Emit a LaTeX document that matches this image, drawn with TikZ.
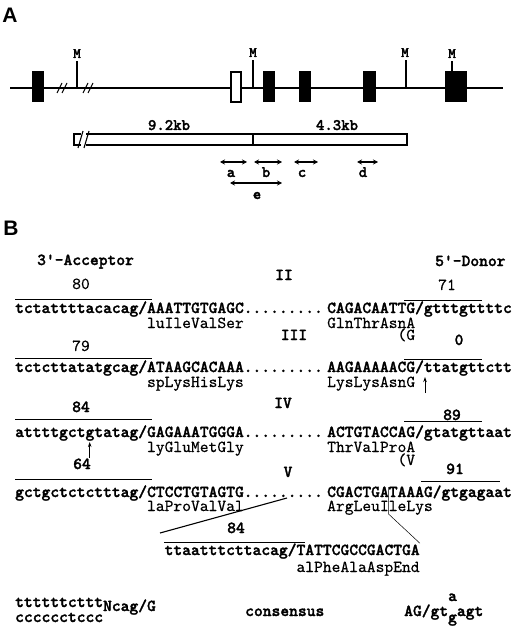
\documentclass[tikz,border=0pt]{standalone}
\usepackage{fontspec}
\usetikzlibrary{arrows.meta}
\newfontfamily\hvfont{Liberation Sans}
\newfontfamily\sqbfam{lmmonolt10-bold.otf}[FakeBold=1.6]
\newfontfamily\sqrfam{lmmono10-regular.otf}[FakeBold=0.4]
\newcommand\sqf{\sqrfam\fontsize{16.75}{18}\selectfont}
\newcommand\sqb{\sqbfam\fontsize{16.75}{18}\selectfont}
\def\P{8.79}
\def\XR{327}
\begin{document}
\begin{tikzpicture}[x=1pt,y=-1pt,
  seqt/.style={font=\sqb,inner sep=0pt,anchor=base west},
  aat/.style={font=\sqf,inner sep=0pt,anchor=base west},
  numb/.style={font=\sqb,inner sep=0pt,anchor=base},
  numr/.style={font=\sqf,inner sep=0pt,anchor=base},
  panel/.style={font=\hvfont\bfseries\fontsize{21}{24}\selectfont,inner sep=0pt},
  exonbox/.style={draw,fill=black,line width=1pt,inner sep=0pt,minimum height=30pt},
  openbox/.style={draw,fill=white,line width=1.2pt,inner sep=0pt,minimum height=30pt},
  gene/.style={line width=1.4pt},
  tick/.style={line width=1.1pt},
  mlab/.style={font=\sqbfam\fontsize{14.5}{16}\selectfont,inner sep=0pt,anchor=base},
  kb/.style={font=\sqbfam\fontsize{16}{18}\selectfont,inner sep=0pt,anchor=base},
  bar/.style={line width=1.3pt},
  dbl/.style={line width=1.3pt,{Stealth[length=5pt,width=5pt]}-{Stealth[length=5pt,width=5pt]}},
  ovl/.style={line width=0.8pt},
  uparrow/.style={line width=0.9pt,-{Stealth[length=5pt,width=3.5pt]}},
  brk/.style={line width=1.1pt},
]
\fill[white] (0,0) rectangle (520,628);
\useasboundingbox (0,0) rectangle (520,628);

% ---------------- Panel A ----------------
\node[panel] (labA) at (10,15) {A};
\draw[gene] (10,88) coordinate (g0) -- (503,88) coordinate (g1);
\draw[brk] (57,93) -- (62,83);
\draw[brk] (62,93) -- (67,83);
\draw[brk] (83,93) -- (88,83);
\draw[brk] (88,93) -- (93,83);
\node[exonbox,minimum width=11pt] (e1) at (37.5,87) {};
\node[openbox,minimum width=10pt] (e2) at (236,87) {};
\node[exonbox,minimum width=11pt] (e3) at (268.5,87) {};
\node[exonbox,minimum width=11pt] (e4) at (304.5,87) {};
\node[exonbox,minimum width=12pt] (e5) at (369,87) {};
\node[exonbox,minimum width=21pt] (e6) at (455.5,87) {};
\node[mlab] (m1) at (77,58) {M};
\node[mlab] (m2) at (253,57) {M};
\node[mlab] (m3) at (405,57) {M};
\node[mlab] (m4) at (452,58) {M};
\draw[tick] (77,88) -- (77,61);
\draw[tick] (253,88) -- (253,60);
\draw[tick] (406,88) -- (406,60);
\draw[tick] (452,72) -- (452,61);

% restriction fragment bar
\draw[bar] (81,134) -- (74,134) -- (74,145) -- (81,145);
\draw[bar] (86,134) -- (407,134) -- (407,145) -- (86,145);
\draw[brk] (78,148) -- (83,131);
\draw[brk] (84,148) -- (89,131);
\draw[bar] (253,134) -- (253,145);
\node[kb] (kb1) at (169,130) {9.2kb};
\node[kb] (kb2) at (337,130) {4.3kb};

% probes
\coordinate (pa1) at (220,162); \coordinate (pa2) at (247,162);
\coordinate (pb1) at (254,162); \coordinate (pb2) at (282,162);
\coordinate (pc1) at (294,162); \coordinate (pc2) at (318,162);
\coordinate (pd1) at (357,162); \coordinate (pd2) at (378,162);
\coordinate (pe1) at (230,183); \coordinate (pe2) at (282,183);
\draw[dbl] (pa1) -- (pa2);
\draw[dbl] (pb1) -- (pb2);
\draw[dbl] (pc1) -- (pc2);
\draw[dbl] (pd1) -- (pd2);
\draw[dbl] (pe1) -- (pe2);
\node[kb] (la) at (231,177) {a};
\node[kb] (lb) at (266,177) {b};
\node[kb] (lc) at (302,177) {c};
\node[kb] (ld) at (363,177) {d};
\node[kb] (le) at (257,199) {e};

% ---------------- Panel B ----------------
\node[panel] (labB) at (11,228) {B};
\node[seqt] (acc) at (37,265) {3'-Acceptor};
\node[seqt] (don) at (435,266) {5'-Donor};

% row II
\node[numr] (n80) at (81,289) {80};
\node[numb] (r2) at (284,280) {II};
\node[numr] (n71) at (447,290) {71};
\draw[ovl] (15,299) -- (152,299);
\draw[ovl] (404,300) -- (482,300);
\node[seqt] (s1l) at (15,313) {tctattttacacag/AAATTGTGAGC};
\node[seqt] (d1) at ({15+26*\P},313) {.........};
\node[seqt] (s1r) at (\XR,313) {CAGACAATTG/gtttgttttc};
\node[aat] (a1l) at ({15+15*\P},328) {luIleValSer};
\node[aat] (a1r) at (\XR,328) {GlnThrAsnA};

% row III
\node[aat] (alt1) at ({\XR+8*\P},340) {(G};
\node[numb] (r3) at (294,340) {III};
\node[numb] (n0) at (459,345) {0};
\node[numr] (n79) at (81,351) {79};
\draw[ovl] (15,358) -- (152,358);
\draw[ovl] (404,359) -- (482,359);
\node[seqt] (s2l) at (15,372) {tctcttatatgcag/ATAAGCACAAA};
\node[seqt] (d2) at ({15+26*\P},372) {.........};
\node[seqt] (s2r) at (\XR,372) {AAGAAAAACG/ttatgttctt};
\node[aat] (a2l) at ({15+15*\P},387) {spLysHisLys};
\node[aat] (a2r) at (\XR,387) {LysLysAsnG};
\coordinate (up1b) at (425,393);
\coordinate (up1t) at (425,377);
\draw[uparrow] (up1b) -- (up1t);

% row IV
\node[numb] (r4) at (283,408) {IV};
\node[numb] (n84) at (81,412) {84};
\node[numb] (n89) at (452,420) {89};
\draw[ovl] (15,419) -- (152,419);
\draw[ovl] (404,421) -- (482,421);
\node[seqt] (s3l) at (15,437) {attttgctgtatag/GAGAAATGGGA};
\node[seqt] (d3) at ({15+26*\P},437) {.........};
\node[seqt] (s3r) at (\XR,437) {ACTGTACCAG/gtatgttaat};
\node[aat] (a3l) at ({15+15*\P},452) {lyGluMetGly};
\node[aat] (a3r) at (\XR,452) {ThrValProA};
\coordinate (up2b) at ({15+8.5*\P},458);
\coordinate (up2t) at ({15+8.5*\P},442);
\draw[uparrow] (up2b) -- (up2t);
\node[aat] (alt2) at ({\XR+8*\P},465) {(V};

% row V
\node[numb] (n64) at (82,469) {64};
\node[numb] (r5) at (288,477) {V};
\node[numb] (n91) at (455,474) {91};
\draw[ovl] (15,479) -- (152,479);
\draw[ovl] (421,481) -- (500,481);
\node[seqt] (s4l) at (15,497) {gctgctctctttag/CTCCTGTAGTG};
\node[seqt] (d4) at ({15+26*\P},497) {.........};
\node[seqt] (s4r) at (\XR,497) {CGACTGATAAAG/gtgagaat};
\node[aat] (a4l) at ({15+15*\P},511) {laProValVal};
\node[aat] (a4r) at (\XR,511) {ArgLeuIleLys};

% alternative exon V
\node[numb] (n84b) at (236,533) {84};
\draw[ovl] (164,542) -- (305,542);
\node[seqt] (s5) at ({15+17*\P},555) {ttaatttcttacag/TATTCGCCGACTGA};
\node[aat] (a5) at ({15+32*\P},572) {alPheAlaAspEnd};
\coordinate (zl1) at (160,533);
\coordinate (zl2) at (287,498);
\draw[line width=1.1pt] (zl1) -- (zl2);
\coordinate (vt) at ({\XR+7*\P},487);
\coordinate (vb) at ({\XR+7*\P},514);
\draw[line width=0.5pt] (vt) -- (vb) -- (s5.north east);

% consensus
\node[seqt] (ct) at (15,607) {ttttttcttt};
\node[seqt] (cc) at (15,622) {cccccctccc};
\node[seqt] (cn) at ({15+10*\P},611) {Ncag/G};
\node[seqt] (cons) at (245,616) {consensus};
\node[seqt] (dc) at (404,616) {AG/gt};
\node[seqt] (dca) at ({404+5*\P},601) {a};
\node[seqt] (dcg) at ({404+5*\P},622) {g};
\node[seqt] (dct) at ({404+6*\P},616) {agt};
\end{tikzpicture}
\end{document}
